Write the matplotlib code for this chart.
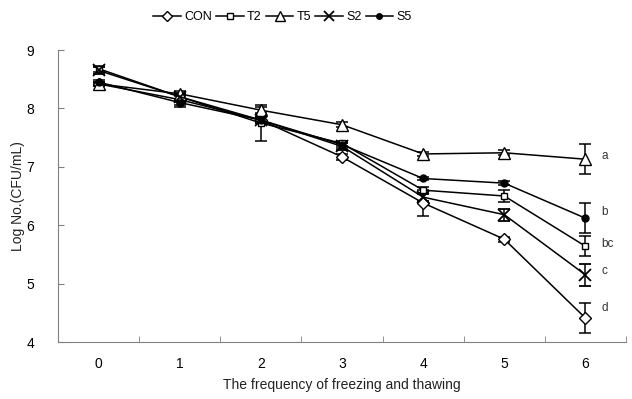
import matplotlib.pyplot as plt
from matplotlib.lines import Line2D

plt.rcParams['font.family'] = ['Liberation Sans', 'DejaVu Sans']

cycles = [0, 1, 2, 3, 4, 5, 6]
con = [8.42, 8.15, 7.80, 7.17, 6.38, 5.76, 4.41]
t2 = [8.68, 8.20, 7.75, 7.40, 6.60, 6.50, 5.64]
t5 = [8.42, 8.25, 7.97, 7.72, 7.22, 7.24, 7.13]
s2 = [8.65, 8.20, 7.80, 7.35, 6.48, 6.18, 5.15]
s5 = [8.45, 8.10, 7.80, 7.38, 6.80, 6.72, 6.12]

con_err = [0.03, 0.12, 0.05, 0.05, 0.22, 0.04, 0.25]
t2_err = [0.05, 0.05, 0.30, 0.05, 0.05, 0.10, 0.17]
t5_err = [0.04, 0.04, 0.05, 0.04, 0.04, 0.04, 0.26]
s2_err = [0.06, 0.05, 0.05, 0.06, 0.06, 0.10, 0.19]
s5_err = [0.04, 0.04, 0.05, 0.05, 0.03, 0.03, 0.26]

letters = ['a', 'b', 'bc', 'c', 'd']
letter_y = [7.18, 6.22, 5.67, 5.22, 4.58]

series = [
    ('CON', con, con_err, dict(marker='D', mfc='white', ms=6)),
    ('T2', t2, t2_err, dict(marker='s', mfc='white', ms=5)),
    ('T5', t5, t5_err, dict(marker='^', mfc='white', ms=9)),
    ('S2', s2, s2_err, dict(marker='x', ms=9, mew=1.3)),
    ('S5', s5, s5_err, dict(marker='o', mfc='black', ms=5)),
]

fig = plt.figure(figsize=(6.32, 3.99), dpi=100)
ax = fig.add_axes([58 / 632, 1 - 342 / 399, (626 - 58) / 632, (342 - 50) / 399])

handles = []
for name, vals, err, style in series:
    ax.errorbar(cycles, vals, yerr=err, color='black', lw=1.1, capsize=4,
                elinewidth=1.1, capthick=1.1, mec='black', **style)
    leg_style = dict(style)
    leg_style['ms'] = style['ms'] * 0.8
    handles.append(Line2D([], [], color='black', lw=1.1, mec='black',
                          label=name, **leg_style))

for lab, yy in zip(letters, letter_y):
    ax.text(6.2, yy, lab, fontsize=8.5, color='#333333', va='center', ha='left')

ax.set_xlim(-0.5, 6.5)
ax.set_ylim(4, 9)
ax.set_xticks(cycles)
ax.set_xticks([c + 0.5 for c in cycles], minor=True)
ax.tick_params(axis='x', which='major', length=0, pad=11, labelsize=10)
ax.tick_params(axis='x', which='minor', direction='in', length=4, color='#808080')
ax.tick_params(axis='y', direction='in', length=4, color='#808080', labelsize=10, pad=17)
ax.set_yticks([4, 5, 6, 7, 8, 9])

for side in ['top', 'right']:
    ax.spines[side].set_visible(False)
for side in ['left', 'bottom']:
    ax.spines[side].set_color('#808080')

ax.set_xlabel('The frequency of freezing and thawing', fontsize=10, color='#222222')
ax.set_ylabel('Log No.(CFU/mL)', fontsize=10, color='#222222')
ax.xaxis.set_label_coords(0.5, -0.123)
ax.yaxis.set_label_coords(-0.058, 0.5)

fig.legend(handles=handles, loc='upper center', bbox_to_anchor=(0.447, 1.0), ncol=5,
           frameon=False, fontsize=9, handlelength=2.2, handletextpad=0.25,
           columnspacing=0.35)

fig.savefig('out.png', dpi=100)
